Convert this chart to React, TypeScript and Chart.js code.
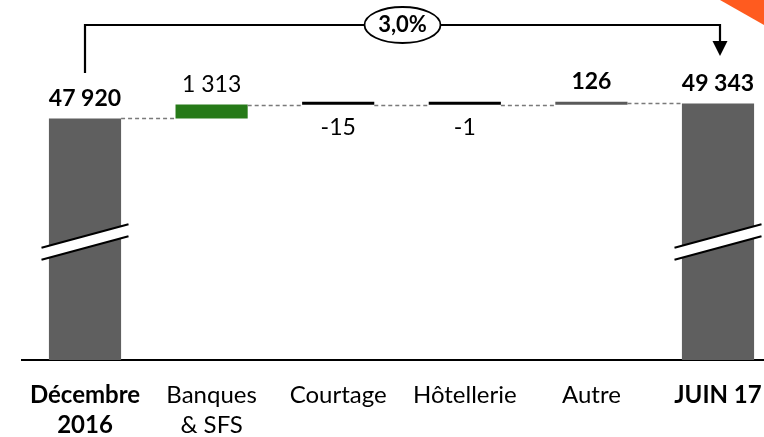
import React, { useEffect, useRef } from 'react';
import { Chart, registerables } from 'chart.js';

Chart.register(...registerables);

// ---- data ----
const categories: (string | string[])[] = [
  ['Décembre', '2016'],
  ['Banques', '& SFS'],
  'Courtage',
  'Hôtellerie',
  'Autre',
  'JUIN 17',
];
const startValue = 47920;
const changes = [1313, -15, -1, 126];
const endValue = 49343;
const growthLabel = '3,0%';
const boldValueLabels = [true, false, false, false, true, true];
const boldTickLabels = [true, false, false, false, false, true];
const axisMin = 25000;
const axisMax = 59150;

// cumulative levels after each step
const levels: number[] = [startValue];
changes.forEach((c) => levels.push(levels[levels.length - 1] + c));
const barData: [number, number][] = [
  [axisMin, startValue],
  ...changes.map((c, i) => [levels[i], levels[i + 1]] as [number, number]),
  [axisMin, endValue],
];
const labelValues = [startValue, ...changes, endValue];

const barColors = ['#5f5f5f', '#267a18', '#000000', '#000000', '#5a5a5a', '#5f5f5f'];
const FONT = 'Lato';

const fmt = (n: number) =>
  (n < 0 ? '-' : '') + Math.abs(n).toString().replace(/\B(?=(\d{3})+(?!\d))/g, ' ');

const overlayPlugin = {
  id: 'overlay',
  afterDatasetsDraw(chart: any) {
    const ctx = chart.ctx as CanvasRenderingContext2D;
    const meta = chart.getDatasetMeta(0);
    const y = chart.scales.y;
    const area = chart.chartArea;
    const bars = meta.data as any[];
    ctx.save();

    // dashed connectors
    ctx.strokeStyle = '#7a7a7a';
    ctx.lineWidth = 1.5;
    ctx.setLineDash([4, 3]);
    for (let i = 0; i < bars.length - 1; i++) {
      const py = Math.round(y.getPixelForValue(levels[i])) + 0.5;
      const x1 = bars[i].x + bars[i].width / 2;
      const x2 = bars[i + 1].x - bars[i + 1].width / 2;
      ctx.beginPath();
      ctx.moveTo(x1, py);
      ctx.lineTo(x2, py);
      ctx.stroke();
    }
    ctx.setLineDash([]);

    // axis break marks
    const yMid = area.bottom - 118;
    [0, bars.length - 1].forEach((i) => {
      const cx = bars[i].x;
      const hw = 43.5;
      const drop = 11.7;
      const ul = [cx - hw, yMid - 6 + drop];
      const ur = [cx + hw, yMid - 6 - drop];
      const ll = [cx - hw, yMid + 6 + drop];
      const lr = [cx + hw, yMid + 6 - drop];
      ctx.fillStyle = '#ffffff';
      ctx.beginPath();
      ctx.moveTo(ul[0], ul[1]);
      ctx.lineTo(ur[0], ur[1]);
      ctx.lineTo(lr[0], lr[1]);
      ctx.lineTo(ll[0], ll[1]);
      ctx.closePath();
      ctx.fill();
      ctx.strokeStyle = '#000';
      ctx.lineWidth = 2;
      ctx.beginPath();
      ctx.moveTo(ul[0], ul[1]);
      ctx.lineTo(ur[0], ur[1]);
      ctx.moveTo(ll[0], ll[1]);
      ctx.lineTo(lr[0], lr[1]);
      ctx.stroke();
    });

    // data labels
    ctx.fillStyle = '#000';
    ctx.textAlign = 'center';
    ctx.textBaseline = 'alphabetic';
    labelValues.forEach((v, i) => {
      const b = bars[i];
      ctx.font = `${boldValueLabels[i] ? 'bold ' : ''}23px ${FONT}`;
      const isTotal = i === 0 || i === bars.length - 1;
      if (!isTotal && v < 0) {
        const py = y.getPixelForValue(levels[i - 1]);
        ctx.fillText(fmt(v), b.x, py + 30.5);
      } else {
        const top = Math.min(b.y, b.base);
        ctx.fillText(fmt(v), b.x, top - 12.5);
      }
    });

    // growth bracket
    const xL = bars[0].x;
    const xR = bars[bars.length - 1].x + 2;
    const yTop = 25;
    ctx.strokeStyle = '#000';
    ctx.lineWidth = 2.2;
    ctx.beginPath();
    ctx.moveTo(xL, 73);
    ctx.lineTo(xL, yTop);
    ctx.lineTo(xR, yTop);
    ctx.lineTo(xR, 42);
    ctx.stroke();
    ctx.fillStyle = '#000';
    ctx.beginPath();
    ctx.moveTo(xR - 7.5, 41);
    ctx.lineTo(xR + 7.5, 41);
    ctx.lineTo(xR, 56);
    ctx.closePath();
    ctx.fill();

    const ex = (xL + xR) / 2;
    ctx.fillStyle = '#fff';
    ctx.lineWidth = 1.8;
    ctx.beginPath();
    ctx.ellipse(ex, 25, 38, 18, 0, 0, Math.PI * 2);
    ctx.fill();
    ctx.stroke();
    ctx.fillStyle = '#000';
    ctx.font = `bold 22px ${FONT}`;
    ctx.fillText(growthLabel, ex, 32);

    // orange corner
    ctx.fillStyle = '#ff5b1f';
    ctx.beginPath();
    ctx.moveTo(720, 0);
    ctx.lineTo(800, 0);
    ctx.lineTo(800, 45.5);
    ctx.closePath();
    ctx.fill();

    ctx.restore();
  },
};

export default function App() {
  const ref = useRef<HTMLCanvasElement | null>(null);
  useEffect(() => {
    if (!ref.current) return;
    const chart = new Chart(ref.current, {
      type: 'bar',
      data: {
        labels: categories as any,
        datasets: [
          {
            data: barData as any,
            backgroundColor: barColors,
            borderWidth: 0,
            minBarLength: 3,
            categoryPercentage: 1,
            barPercentage: 0.57,
          },
        ],
      },
      options: {
        responsive: false,
        animation: false,
        layout: { padding: { left: 21.7, right: 8.7, top: 0, bottom: 0 } },
        plugins: {
          legend: { display: false },
          tooltip: { enabled: false },
        },
        scales: {
          x: {
            grid: { display: false, drawTicks: false },
            border: { display: true, color: '#000', width: 2 },
            ticks: {
              color: '#000',
              padding: 20,
              maxRotation: 0,
              autoSkip: false,
              font: (c: any) => ({
                family: FONT,
                size: 24,
                lineHeight: 1.25,
                weight: boldTickLabels[c.index] ? 'bold' : 'normal',
              }),
            },
          },
          y: {
            display: false,
            min: axisMin,
            max: axisMax,
          },
        },
      },
      plugins: [overlayPlugin],
    });
    return () => chart.destroy();
  }, []);
  return (
    <div
      style={{
        position: 'fixed',
        left: 0,
        top: 0,
        width: 764,
        height: 437,
        overflow: 'hidden',
        background: '#fff',
      }}
    >
      <canvas ref={ref} width={790} height={460} style={{ display: 'block' }} />
    </div>
  );
}
